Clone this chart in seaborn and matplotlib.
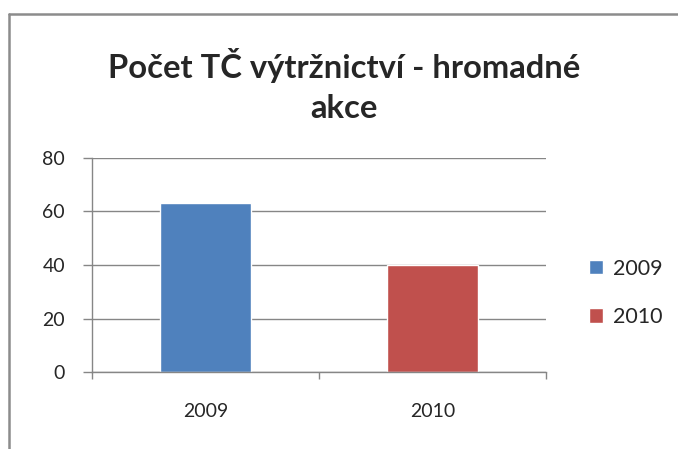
import matplotlib.pyplot as plt
import seaborn as sns
from matplotlib.lines import Line2D

# Data
roky = ['2009', '2010']
pocty = [63, 40]
barvy = ['#4F81BD', '#C0504D']

sns.set_style('white')
plt.rcParams['font.family'] = ['Lato', 'DejaVu Sans']

fig = plt.figure(figsize=(6.78, 4.49), dpi=100)
ax = fig.add_axes([92 / 678, 1 - 372 / 449, (546 - 92) / 678, (372 - 158) / 449])

sns.barplot(x=roky, y=pocty, hue=roky, palette=barvy, width=0.4,
            saturation=1, legend=True, ax=ax)

# Osy
ax.set_ylim(0, 80)
ax.set_yticks(range(0, 81, 20))
ax.set_xlim(-0.5, 1.5)
ax.yaxis.grid(True, color='#868686', linewidth=1)
ax.set_axisbelow(True)
for s in ['top', 'right']:
    ax.spines[s].set_visible(False)
for s in ['left', 'bottom']:
    ax.spines[s].set_color('#868686')
    ax.spines[s].set_linewidth(1)
ax.tick_params(axis='y', length=6.5, width=1, color='#868686', pad=13,
               labelsize=14, left=True)
ax.set_xticks([-0.5, 0.5, 1.5], minor=True)
ax.tick_params(axis='x', which='minor', length=5, width=1, color='#868686',
               bottom=True)
ax.tick_params(axis='x', which='major', length=0, pad=22, labelsize=14)
ax.set_xlabel('')
ax.set_ylabel('')

# Legenda
leg = ax.legend(loc='center left', bbox_to_anchor=(1.053, 0.37), frameon=False,
                fontsize=15.5, handlelength=0.65, handleheight=0.65,
                handletextpad=0.45, labelspacing=1.33)

# Nadpis
fig.text(344 / 678, 1 - 78 / 449, 'Počet TČ výtržnictví - hromadné',
         ha='center', va='baseline', fontsize=23.6, fontweight='bold')
fig.text(344 / 678, 1 - 118 / 449, 'akce',
         ha='center', va='baseline', fontsize=23.6, fontweight='bold')

# Rámeček grafu
fig.add_artist(Line2D([9 / 678, 9 / 678], [0, 1 - 13.5 / 449],
                      color='#8c8c8c', linewidth=1.8))
fig.add_artist(Line2D([9 / 678, 1], [1 - 13.5 / 449, 1 - 13.5 / 449],
                      color='#8c8c8c', linewidth=1.8))

plt.savefig('out.png', dpi=100)
